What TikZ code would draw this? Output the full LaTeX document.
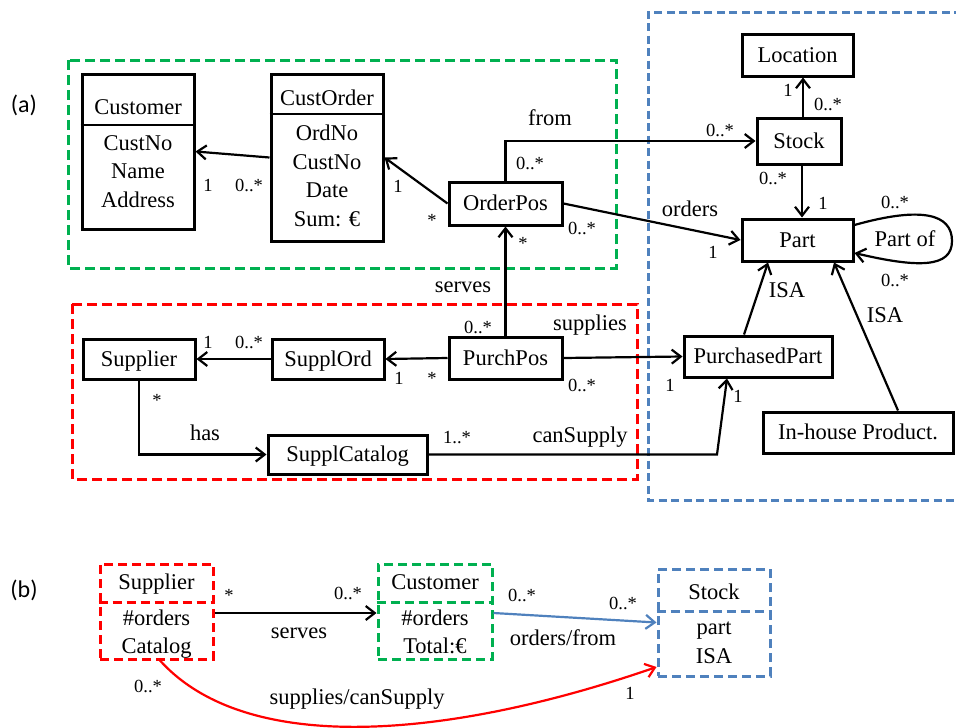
\documentclass[tikz,border=0pt]{standalone}
\usepackage{fontspec}
\setmainfont{Liberation Serif}
\newfontfamily\panelfont{Carlito}
\usetikzlibrary{arrows.meta,calc}
\definecolor{grpGreen}{HTML}{00B050}
\definecolor{grpRed}{HTML}{FF0000}
\definecolor{grpBlue}{HTML}{4F81BD}
\newcommand\namesize{\fontsize{22.5}{28.5}\selectfont}
\newcommand\multsize{\fontsize{18.5}{21}\selectfont}

\begin{document}
\begin{tikzpicture}[x=1pt,y=-1pt,
  txt/.style={font=\namesize, inner sep=0pt, text height=14.9pt, text depth=0pt},
  mult/.style={font=\multsize, inner sep=0pt, text height=12.2pt, text depth=0pt},
  body/.style={font=\namesize, inner sep=0pt, align=center},
  cls/.style={draw, line width=3pt, inner sep=0pt, font=\namesize, text height=14.9pt, text depth=0pt},
  dcls/.style={draw, line width=3pt, inner sep=0pt, dash pattern=on 9pt off 5pt},
  sep/.style={line width=2pt},
  dsep/.style={line width=3pt, dash pattern=on 9pt off 5pt},
  conn/.style={line width=2.2pt, -{Straight Barb[length=9pt,width=14pt]}},
  grpframe/.style={line width=3pt, dash pattern=on 10pt off 5pt},
  panel/.style={font=\panelfont\fontsize{24}{26}\selectfont, inner sep=0pt}
]
\useasboundingbox (0,0) rectangle (956,728);

% ---------- (a) group frames ----------
\draw[grpframe, grpGreen] (68,60) rectangle (616,268);
\draw[grpframe, grpRed] (72,304) rectangle (637,479);
% the blue group runs off the right border of the page
\draw[grpframe, grpBlue, dash pattern=on 8pt off 4.5pt] (962,12) -- (648,12) -- (648,500) -- (962,500);

\node[panel] (pa) at (24,105) {(a)};
\node[panel] (pb) at (24,590) {(b)};

% ---------- (a) classes ----------
\node[cls, minimum width=112, minimum height=155] (customer) at (138,151.5) {};
\node[txt] (customerHead) at (138,107) {Customer};
\node[body] (customerBody) at (138,171.5) {CustNo\\Name\\Address};
\draw[sep] (customer.west |- 0,125) -- (customer.east |- 0,125);

\node[cls, minimum width=112, minimum height=167] (custorder) at (327,157.5) {};
\node[txt] (custorderHead) at (327,98) {CustOrder};
\node[body] (custorderBody) at (327,176) {OrdNo\\CustNo\\Date\\Sum: €};
\draw[sep] (custorder.west |- 0,114) -- (custorder.east |- 0,114);

\node[cls, minimum width=113, minimum height=43] (orderpos) at (505.5,203.5) {OrderPos};
\node[cls, minimum width=111, minimum height=42] (location) at (797.5,55) {Location};
\node[cls, minimum width=84, minimum height=46] (stock) at (799,141) {Stock};
\node[cls, minimum width=111, minimum height=42] (part) at (797.5,240) {Part};
\node[cls, minimum width=148, minimum height=41] (purchasedpart) at (758,356.5) {PurchasedPart};
\node[cls, minimum width=190, minimum height=41] (inhouse) at (858,432.5) {In-house Product.};
\node[cls, minimum width=112, minimum height=40] (supplier) at (139,359) {Supplier};
\node[cls, minimum width=112, minimum height=40] (supplord) at (328,359) {SupplOrd};
\node[cls, minimum width=113, minimum height=42] (purchpos) at (505.5,358) {PurchPos};
\node[cls, minimum width=159, minimum height=39] (supplcatalog) at (347.5,454.5) {SupplCatalog};

% ---------- (a) associations ----------
\draw[conn] (custorder.west) -- (customer.east);
\draw[conn] (orderpos.west) -- (custorder.east);
\draw[conn] (orderpos.north) |- (stock.west);
\draw[conn] ([xshift=4pt]stock.north) -- ([xshift=4pt]stock.north |- location.south);
\draw[conn] ([xshift=3pt]stock.south) -- ([xshift=3pt]stock.south |- part.north);
\draw[conn] (orderpos.east) -- (part.west);
\draw[conn] ([yshift=15pt]part.east) .. controls (922,206) and (952,214) .. (952,241)
  .. controls (952,268) and (918,268) .. ([yshift=-13pt]part.east);
\draw[conn] ([xshift=-14pt]purchasedpart.north) -- ([xshift=-29.5pt]part.south);
\draw[conn] ([xshift=40pt]inhouse.north) -- ([xshift=36.5pt]part.south);
\draw[conn] (purchpos.north) -- (orderpos.south);
\draw[conn] (purchpos.west) -- (supplord.east);
\draw[conn] (supplord.west) -- (supplier.east);
\draw[conn] (purchpos.east) -- (purchasedpart.west);
\draw[conn] (supplier.south) |- (supplcatalog.west);
\coordinate (csBend) at (717,454.5);
\draw[conn] (supplcatalog.east) -- (csBend) -- ([xshift=-31pt]purchasedpart.south);

% ---------- (a) labels ----------
\node[mult] (m1) at (208,185) {1};
\node[mult] (m2) at (249,185) {0..*};
\node[mult] (m3) at (398,186) {1};
\node[mult] (m4) at (432,220) {*};
\node[txt] (lFrom) at (550,118) {from};
\node[mult] (m5) at (530,163) {0..*};
\node[mult] (m6) at (720,130) {0..*};
\node[mult] (m7) at (788,90) {1};
\node[mult] (m8) at (828,104) {0..*};
\node[mult] (m9) at (773,178) {0..*};
\node[mult] (m10) at (823,203) {1};
\node[txt] (lOrders) at (690,209) {orders};
\node[mult] (m11) at (582,228) {0..*};
\node[mult] (m12) at (713,252) {1};
\node[mult] (m13) at (895,202) {0..*};
\node[txt] (lPartOf) at (905,239) {Part of};
\node[mult] (m14) at (895,280) {0..*};
\node[txt] (lIsa1) at (787,290) {ISA};
\node[txt] (lIsa2) at (885,315) {ISA};
\node[txt] (lServes) at (463,285) {serves};
\node[mult] (m15) at (478,327) {0..*};
\node[mult] (m16) at (523,243) {*};
\node[mult] (m17) at (208,342) {1};
\node[mult] (m18) at (249,342) {0..*};
\node[mult] (m19) at (399,378) {1};
\node[mult] (m20) at (432,378) {*};
\node[txt] (lSupplies) at (590,323) {supplies};
\node[mult] (m21) at (582,385) {0..*};
\node[mult] (m22) at (670,385) {1};
\node[txt] (lHas) at (205,433) {has};
\node[mult] (m23) at (157,400) {*};
\node[txt] (lCanSupply) at (580,435) {canSupply};
\node[mult] (m24) at (457,437) {1..*};
\node[mult] (m25) at (738,396) {1};

% ---------- (b) summary classes ----------
\node[dcls, draw=grpRed, minimum width=113, minimum height=95] (supB) at (156.5,611.5) {};
\node[txt] (supBHead) at (156.5,582) {Supplier};
\node[body] (supBBody) at (156.5,634) {\#orders\\Catalog};
\draw[dsep, grpRed] (supB.west |- 0,602) -- (supB.east |- 0,602);

\node[dcls, draw=grpGreen, minimum width=114, minimum height=95] (custB) at (435,611.5) {};
\node[txt] (custBHead) at (435,582) {Customer};
\node[body] (custBBody) at (435,632) {\#orders\\Total:€};
\draw[dsep, grpGreen] (custB.west |- 0,602) -- (custB.east |- 0,602);

\node[dcls, draw=grpBlue, minimum width=112, minimum height=107] (stockB) at (714,622.5) {};
\node[txt] (stockBHead) at (714,592) {Stock};
\node[body] (stockBBody) at (714,643) {part\\ISA};
\draw[dsep, grpBlue] (stockB.west |- 0,611) -- (stockB.east |- 0,611);

% ---------- (b) associations ----------
\draw[conn] ([yshift=-1.5pt]supB.east) -- ([yshift=-1.5pt]custB.west);
\draw[conn, grpBlue] ([yshift=-1.5pt]custB.east) -- (stockB.west);
\draw[conn, grpRed] ([xshift=3.5pt]supB.south) .. controls (250,760) and (460,735) .. ([yshift=-44.5pt]stockB.west);

% ---------- (b) labels ----------
\node[mult] (n1) at (229,595) {*};
\node[mult] (n2) at (348,593) {0..*};
\node[txt] (lServesB) at (299,631) {serves};
\node[mult] (n3) at (522,595) {0..*};
\node[mult] (n4) at (623,603) {0..*};
\node[txt] (lOrdersFrom) at (563,638) {orders/from};
\node[mult] (n5) at (148,686) {0..*};
\node[txt] (lSuppCan) at (357,697) {supplies/canSupply};
\node[mult] (n6) at (630,693) {1};
\end{tikzpicture}
\end{document}
